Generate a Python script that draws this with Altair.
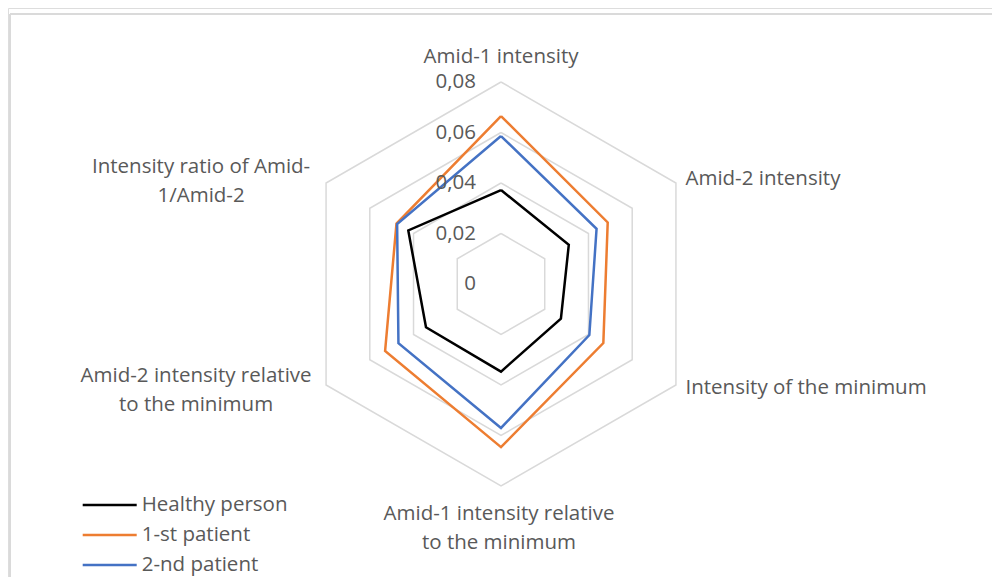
import altair as alt
import pandas as pd

# ---- data ----
categories = [
    "Amid-1 intensity",
    "Amid-2 intensity",
    "Intensity of the minimum",
    "Amid-1 intensity relative to the minimum",
    "Amid-2 intensity relative to the minimum",
    "Intensity ratio of Amid-1/Amid-2",
]
category_labels = [
    "Amid-1 intensity",
    "Amid-2 intensity",
    "Intensity of the minimum",
    "Amid-1 intensity relative\nto the minimum",
    "Amid-2 intensity relative\nto the minimum",
    "Intensity ratio of Amid-\n1/Amid-2",
]
series = ["Healthy person", "1-st patient", "2-nd patient"]
healthy = [0.0372, 0.0310, 0.0274, 0.0347, 0.0343, 0.0424]
patient1 = [0.0665, 0.0488, 0.0468, 0.0646, 0.0530, 0.0478]
patient2 = [0.0586, 0.0437, 0.0404, 0.0570, 0.0469, 0.0475]
grid_levels = [0.02, 0.04, 0.06, 0.08]
tick_values = [0, 0.02, 0.04, 0.06, 0.08]
tick_labels = ["0", "0,02", "0,04", "0,06", "0,08"]

colors = ["#000000", "#ED7D31", "#4472C4"]
FONT = "Open Sans"
TXT = "#595959"
FS = 20.5

W, H = 984, 569

n = len(categories)
rows = []
for name, vals in zip(series, [healthy, patient1, patient2]):
    for i in range(n + 1):
        rows.append({"series": name, "idx": i, "value": vals[i % n]})
series_df = pd.DataFrame(rows)

grid_df = pd.DataFrame(
    [{"level": lv, "idx": i, "value": lv} for lv in grid_levels for i in range(n + 1)]
)
tick_df = pd.DataFrame({"value": tick_values, "label": tick_labels})
cat_df = pd.DataFrame({"idx": list(range(n)), "category": categories, "label": category_labels,
                       "value": [max(grid_levels)] * n})
legend_df = pd.DataFrame({"series": series, "row": list(range(len(series)))})

K = 2525.0  # pixels per data unit
xs = alt.Scale(domain=[-493 / K, (W - 493) / K], nice=False, zero=False)
ys = alt.Scale(domain=[-(H - 276) / K, 276 / K], nice=False, zero=False)


def polar(chart):
    return chart.transform_calculate(
        ang="PI/2 - datum.idx*PI/3"
    ).transform_calculate(
        px="datum.value*cos(datum.ang)", py="datum.value*sin(datum.ang)"
    )


X = alt.X("px:Q", scale=xs, axis=None)
Y = alt.Y("py:Q", scale=ys, axis=None)

grid = polar(alt.Chart(grid_df)).mark_line(stroke="#D9D9D9", strokeWidth=1.5).encode(
    x=X, y=Y, detail="level:N", order="idx:Q"
)

color = alt.Color("series:N", scale=alt.Scale(domain=series, range=colors), legend=None)

lines = []
for s in series:
    lines.append(
        polar(alt.Chart(series_df)).transform_filter(alt.datum.series == s)
        .mark_line(strokeWidth=2.5)
        .encode(x=X, y=Y, color=color, order="idx:Q")
    )

ticks = polar(alt.Chart(tick_df).transform_calculate(idx="0")).mark_text(
    align="right", baseline="middle", dx=-25, font=FONT, fontSize=FS, color=TXT
).encode(x=alt.X("zero:Q", scale=xs, axis=None), y=Y, text="label:N").transform_calculate(zero="0")

label_styles = [
    dict(align="center", dx=0, dy=-25),
    dict(align="left", dx=9.5, dy=-4),
    dict(align="left", dx=9.5, dy=3),
    dict(align="center", dx=-2, dy=27.5),
    dict(align="center", dx=-130, dy=-9.5),
    dict(align="center", dx=-125, dy=-16.5),
]
labels = []
for i, st in enumerate(label_styles):
    labels.append(
        polar(alt.Chart(cat_df)).transform_filter(alt.datum.idx == i)
        .mark_text(baseline="middle", font=FONT, fontSize=FS, color=TXT,
                   lineBreak="\n", lineHeight=29, **st)
        .encode(x=X, y=Y, text="label:N")
    )

plot = alt.layer(grid, *lines, ticks, *labels)

# legend (drawn from the series list through a linear row scale)
LY = alt.Y("row:Q", scale=alt.Scale(domain=[0, 2], range=[497, 557], nice=False, zero=False), axis=None)
leg_lines = alt.Chart(legend_df).mark_rule(strokeWidth=2.5).encode(
    y=LY, x=alt.value(74.7), x2=alt.value(128.7), color=color
)
leg_text = alt.Chart(legend_df).mark_text(
    align="left", baseline="middle", font=FONT, fontSize=FS, color=TXT
).encode(y=LY, x=alt.value(133.7), text="series:N")
legend = alt.layer(leg_lines, leg_text)

frame_top = alt.Chart(tick_df).mark_rule(stroke="#DADADA", strokeWidth=2).encode(
    x=alt.value(2), x2=alt.value(W), y=alt.value(6)
)
frame_left = alt.Chart(tick_df).mark_rule(stroke="#DADADA", strokeWidth=2).encode(
    x=alt.value(2), y=alt.value(6), y2=alt.value(H)
)
frame = alt.layer(frame_top, frame_left)

chart = alt.layer(frame, plot, legend).resolve_scale(y="independent").properties(
    width=W, height=H, padding=0, autosize=alt.AutoSizeParams(type="none")
).configure_view(stroke=None).configure(background="white")

chart.save("out.html", embed_options={"renderer": "svg", "actions": False})
